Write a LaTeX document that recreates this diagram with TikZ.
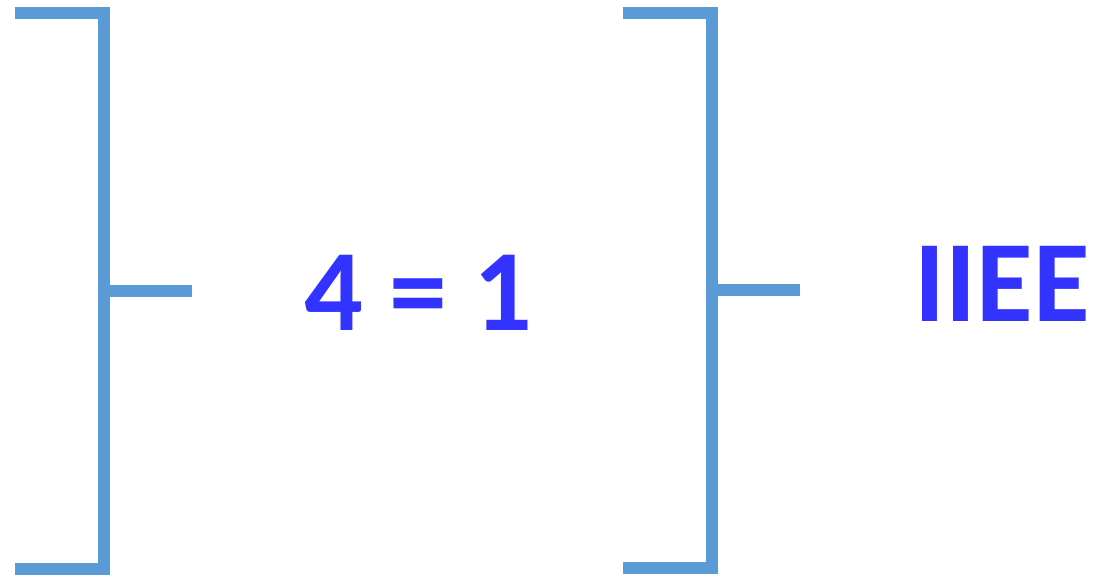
\documentclass[tikz,border=0pt]{standalone}
\usepackage{fontspec}
\setmainfont{Carlito}
\usetikzlibrary{positioning}
\definecolor{BracketBlue}{HTML}{5B9BD5}
\definecolor{TextBlue}{HTML}{3333FF}
\tikzset{
  bracket/.style={line width=12pt,color=BracketBlue,line join=miter},
  bigtext/.style={text=TextBlue,font=\fontsize{116}{120}\selectfont\bfseries,inner sep=0pt,anchor=base},
}
\begin{document}
\begin{tikzpicture}[x=1pt,y=-1pt]
  \useasboundingbox (0,0) rectangle (1094,577);
  % left bracket
  \coordinate (ltop) at (15,13);
  \coordinate (lbot) at (15,569);
  \coordinate (lmid) at (104,291);
  \coordinate (lend) at (192,291);
  % right bracket
  \coordinate (rtop) at (623,13);
  \coordinate (rbot) at (623,568);
  \coordinate (rmid) at (712,290);
  \coordinate (rend) at (800,290);

  \node[bigtext] (eq) at (418,330) {4 = 1};
  \node[bigtext] (word) at (1002,321) {IIEE};

  \draw[bracket] (ltop) -| (lmid |- lbot) -- (lbot);
  \draw[bracket] (lmid) -- (lend);
  \draw[bracket] (rtop) -| (rmid |- rbot) -- (rbot);
  \draw[bracket] (rmid) -- (rend);
\end{tikzpicture}
\end{document}
